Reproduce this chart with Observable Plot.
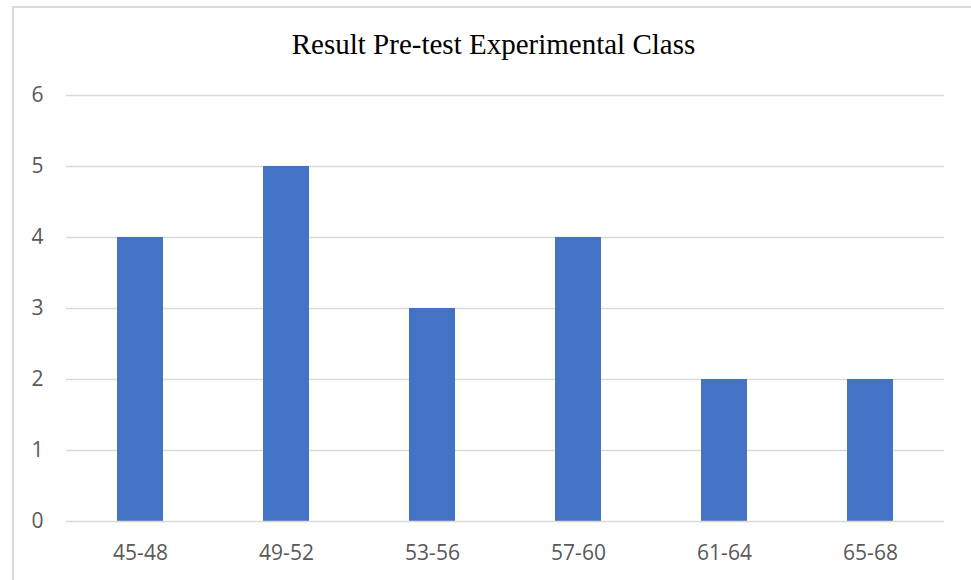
<!DOCTYPE html>
<html>
<head>
<meta charset="utf-8">
<script src="https://cdn.jsdelivr.net/npm/d3@7"></script>
<script src="https://cdn.jsdelivr.net/npm/@observablehq/plot@0.6"></script>
<style>
  html, body { margin: 0; padding: 0; background: #fff; }
  #wrap { position: relative; width: 971px; height: 580px; overflow: hidden; }
  #frame { position: absolute; left: 12px; top: 6px; width: 980px; height: 600px; border: 2px solid #d9d9d9; box-sizing: border-box; }
  #title { position: absolute; left: 0; width: 987px; top: 30px; text-align: center; line-height: 1;
           font-family: "Liberation Serif", "Times New Roman", serif; font-size: 29px; color: #000; }
  #chart { position: absolute; left: 0; top: 0; }
</style>
</head>
<body>
<div id="wrap">
  <div id="frame"></div>
  <div id="chart"></div>
  <div id="title">Result Pre-test Experimental Class</div>
</div>
<script>
const categories = ["45-48", "49-52", "53-56", "57-60", "61-64", "65-68"];
const counts = [4, 5, 3, 4, 2, 2];
const yTicks = [0, 1, 2, 3, 4, 5, 6];

const data = categories.map((c, i) => ({category: c, count: counts[i]}));

const chart = Plot.plot({
  width: 971,
  height: 580,
  marginLeft: 66,
  marginRight: 27,
  marginTop: 95,
  marginBottom: 59,
  style: {fontFamily: "'Open Sans', sans-serif", fontSize: "21px", color: "#595959", background: "transparent"},
  x: {domain: categories, paddingInner: 0.685, paddingOuter: 0.3425, label: null},
  y: {domain: [0, 6], ticks: yTicks, label: null},
  marks: [
    Plot.ruleY(yTicks.filter(d => d > 0), {stroke: "#d9d9d9", strokeWidth: 1.5}),
    Plot.barY(data, {x: "category", y: "count", fill: "#4472C4"}),
    Plot.ruleY([0], {stroke: "#d9d9d9", strokeWidth: 1.5}),
    Plot.axisY({ticks: yTicks, tickSize: 0, tickPadding: 23, tickFormat: d => String(d), fill: "#595959", fontSize: 21, fontFamily: "'Open Sans', sans-serif"}),
    Plot.axisX({tickSize: 0, tickPadding: 24, fill: "#595959", fontSize: 21, fontFamily: "'Open Sans', sans-serif"})
  ]
});
document.getElementById("chart").appendChild(chart);
</script>
</body>
</html>
